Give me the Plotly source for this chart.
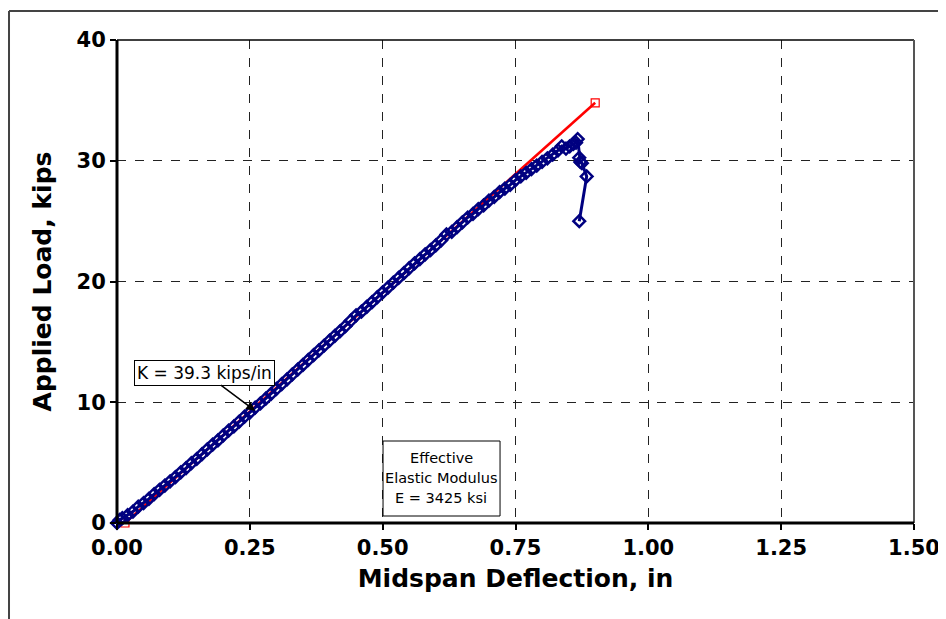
import plotly.graph_objects as go

deflection = [0.000, 0.005, 0.010, 0.020, 0.030, 0.040, 0.050, 0.060, 0.070, 0.080, 0.090,
              0.100, 0.110, 0.120, 0.130, 0.140, 0.150, 0.160, 0.170, 0.180, 0.190,
              0.200, 0.210, 0.220, 0.230, 0.240, 0.250, 0.260, 0.270, 0.280, 0.290,
              0.300, 0.310, 0.320, 0.330, 0.340, 0.350, 0.360, 0.370, 0.380, 0.390,
              0.400, 0.410, 0.420, 0.430, 0.440, 0.450, 0.460, 0.470, 0.480, 0.490,
              0.500, 0.510, 0.520, 0.530, 0.540, 0.550, 0.560, 0.570, 0.580, 0.590,
              0.600, 0.610, 0.620, 0.630, 0.640, 0.650, 0.660, 0.670, 0.680, 0.690,
              0.700, 0.710, 0.720, 0.730, 0.740, 0.750, 0.760, 0.770, 0.780, 0.790,
              0.800, 0.810, 0.820, 0.830, 0.837, 0.845, 0.852, 0.859, 0.864, 0.867,
              0.870, 0.872, 0.875, 0.884, 0.870]
load = [0.00, 0.25, 0.40, 0.65, 0.95, 1.35, 1.65, 2.00, 2.40, 2.75, 3.10,
        3.45, 3.80, 4.20, 4.55, 4.95, 5.30, 5.70, 6.10, 6.50, 6.85,
        7.25, 7.65, 8.00, 8.40, 8.80, 9.15, 9.55, 9.90, 10.30, 10.70,
        11.10, 11.50, 11.90, 12.30, 12.70, 13.10, 13.50, 13.90, 14.30, 14.70,
        15.10, 15.50, 15.90, 16.30, 16.75, 17.20, 17.50, 17.90, 18.30, 18.70,
        19.10, 19.50, 19.90, 20.30, 20.70, 21.10, 21.50, 21.85, 22.25, 22.60,
        23.00, 23.40, 23.90, 24.10, 24.50, 24.90, 25.30, 25.60, 26.00, 26.30,
        26.70, 27.00, 27.40, 27.70, 28.00, 28.40, 28.70, 29.00, 29.30, 29.60,
        29.90, 30.20, 30.50, 30.85, 31.20, 31.00, 31.20, 31.40, 31.50, 31.80,
        30.25, 29.90, 29.80, 28.70, 25.00]

# Stiffness fit line endpoints
fit_deflection = [0.015, 0.900]
fit_load = [0.0, 34.8]

x_ticks = [0.0, 0.25, 0.5, 0.75, 1.0, 1.25, 1.5]
y_ticks = [0, 10, 20, 30, 40]

modulus_lines = ["Effective", "Elastic Modulus", "E = 3425 ksi"]

FONT = "DejaVu Sans"

fig = go.Figure()
fig.add_trace(go.Scatter(
    x=fit_deflection, y=fit_load, mode="lines+markers",
    line=dict(color="#ff0000", width=2.5),
    marker=dict(symbol="square-open", size=8, color="#ff0000", line=dict(width=1.2)),
    showlegend=False, cliponaxis=False))
fig.add_trace(go.Scatter(
    x=deflection, y=load, mode="lines+markers",
    line=dict(color="#000080", width=3),
    marker=dict(symbol="diamond-open", size=9, color="#000080", line=dict(width=2.5)),
    showlegend=False, cliponaxis=False))

axis_common = dict(
    showline=False, ticks="outside", ticklen=6, tickwidth=2, tickcolor="black",
    showgrid=True, gridcolor="#222222", gridwidth=1, griddash="dash",
    zeroline=False,
    tickfont=dict(family=FONT, size=21, color="black", weight="bold"),
)
fig.update_xaxes(range=[0, 1.5], tickvals=x_ticks, tickformat=".2f",
                 title=dict(text="<b>Midspan Deflection, in</b>",
                            font=dict(family=FONT, size=25, color="black"), standoff=10),
                 **axis_common)
fig.update_yaxes(range=[0, 40], tickvals=y_ticks,
                 title=dict(text="<b>Applied Load, kips</b>",
                            font=dict(family=FONT, size=25, color="black"), standoff=17),
                 **axis_common)

shapes = [
    # plot area top/right border
    dict(type="line", xref="paper", yref="paper", x0=0, x1=1, y0=1, y1=1,
         line=dict(color="black", width=1.5)),
    dict(type="line", xref="paper", yref="paper", x0=1, x1=1, y0=0, y1=1,
         line=dict(color="#555555", width=2)),
    # left and bottom axis lines
    dict(type="line", xref="paper", yref="paper", x0=0, x1=0, y0=0, y1=1,
         line=dict(color="black", width=3)),
    dict(type="line", xref="paper", yref="paper", x0=0, x1=1, y0=0, y1=0,
         line=dict(color="black", width=3)),
    # outer chart frame (partially visible)
    dict(type="line", xref="paper", yref="paper", x0=-0.1355, x1=1.06, y0=1.06, y1=1.06,
         line=dict(color="#444444", width=2)),
    dict(type="line", xref="paper", yref="paper", x0=-0.1355, x1=-0.1355, y0=1.06, y1=-0.23,
         line=dict(color="#444444", width=2)),
    # modulus text box
    dict(type="rect", xref="x", yref="y", x0=0.5007, x1=0.7209, y0=0.58, y1=6.79,
         fillcolor="white", line=dict(color="black", width=1)),
]

annotations = [
    dict(x=0.26, y=9.3, xref="x", yref="y", ax=0.164, ay=12.46, axref="x", ayref="y",
         text="K = 39.3 kips/in", showarrow=True, arrowhead=2, arrowsize=1.2,
         arrowwidth=1.5, arrowcolor="black",
         font=dict(family=FONT, size=17, color="black"),
         bgcolor="white", bordercolor="black", borderwidth=1, borderpad=2),
]
for txt, yv in zip(modulus_lines, [5.38, 3.73, 2.07]):
    annotations.append(dict(x=0.61, y=yv, xref="x", yref="y", showarrow=False, text=txt,
                            font=dict(family=FONT, size=14.5, color="black")))

fig.update_layout(
    width=946, height=619,
    margin=dict(l=109, r=40, t=32, b=104),
    paper_bgcolor="white", plot_bgcolor="white",
    font=dict(family=FONT, color="black"),
    shapes=shapes, annotations=annotations,
)

fig.write_html("out.html")
